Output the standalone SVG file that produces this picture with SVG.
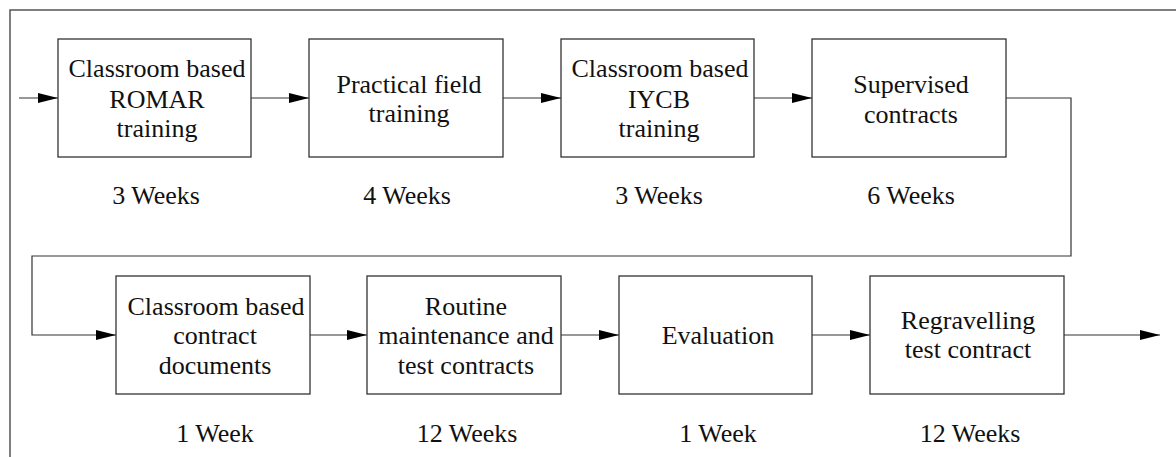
<svg xmlns="http://www.w3.org/2000/svg" width="1176" height="457" viewBox="0 0 1176 457">
<style>
.frame{fill:none;stroke:#555;stroke-width:1.5}
.box{fill:#fff;stroke:#333;stroke-width:1.3}
.conn{fill:none;stroke:#333;stroke-width:1.2}
.t{font-family:'Liberation Serif','Tinos','Times New Roman','Nimbus Roman','Nimbus Roman No9 L','FreeSerif','DejaVu Serif',serif;font-size:26px;fill:#111;text-anchor:middle}
</style>
<defs>
<marker id="arr" markerUnits="userSpaceOnUse" markerWidth="20" markerHeight="10" refX="20" refY="5" orient="auto">
<path d="M0,0 L20,5 L0,10 Z" fill="#000"/>
</marker>
<clipPath id="c1"><rect x="58" y="39" width="187" height="118"/></clipPath>
<clipPath id="c3"><rect x="561" y="39" width="188" height="118"/></clipPath>
<clipPath id="c5"><rect x="116" y="276" width="188" height="118"/></clipPath>
<clipPath id="c6"><rect x="367" y="276" width="188" height="118"/></clipPath>
</defs>
<rect x="0" y="0" width="1176" height="457" fill="#fff"/>
<path class="frame" d="M10,457 V10 H1176"/>
<g id="connectors">
<path class="conn" d="M19,98 H58" marker-end="url(#arr)"/>
<path class="conn" d="M251,98 H309" marker-end="url(#arr)"/>
<path class="conn" d="M503,98 H561" marker-end="url(#arr)"/>
<path class="conn" d="M754,98 H812" marker-end="url(#arr)"/>
<path class="conn" d="M1006,98 H1071 V256 H32 V335 H116" marker-end="url(#arr)"/>
<path class="conn" d="M310,335 H367" marker-end="url(#arr)"/>
<path class="conn" d="M561,335 H619" marker-end="url(#arr)"/>
<path class="conn" d="M812,335 H870" marker-end="url(#arr)"/>
<path class="conn" d="M1064,335 H1160" marker-end="url(#arr)"/>
</g>
<g id="nodes">
<g id="n1">
<rect class="box" x="58" y="39" width="193" height="118"/>
<g clip-path="url(#c1)">
<text class="t" x="157" y="77">Classroom based</text>
<text class="t" x="157" y="108">ROMAR</text>
<text class="t" x="157" y="137">training</text>
</g>
<text class="t" x="156" y="204">3 Weeks</text>
</g>
<g id="n2">
<rect class="box" x="309" y="39" width="194" height="118"/>
<text class="t" x="409" y="93">Practical field</text>
<text class="t" x="409" y="122">training</text>
<text class="t" x="407" y="204">4 Weeks</text>
</g>
<g id="n3">
<rect class="box" x="561" y="39" width="193" height="118"/>
<g clip-path="url(#c3)">
<text class="t" x="660" y="77">Classroom based</text>
<text class="t" x="659" y="108">IYCB</text>
<text class="t" x="659" y="137">training</text>
</g>
<text class="t" x="659" y="204">3 Weeks</text>
</g>
<g id="n4">
<rect class="box" x="812" y="39" width="194" height="118"/>
<text class="t" x="911" y="93">Supervised</text>
<text class="t" x="911" y="123">contracts</text>
<text class="t" x="911" y="204">6 Weeks</text>
</g>
<g id="n5">
<rect class="box" x="116" y="276" width="194" height="118"/>
<g clip-path="url(#c5)">
<text class="t" x="216" y="315">Classroom based</text>
<text class="t" x="215" y="344">contract</text>
<text class="t" x="215" y="374">documents</text>
</g>
<text class="t" x="215" y="442">1 Week</text>
</g>
<g id="n6">
<rect class="box" x="367" y="276" width="194" height="118"/>
<g clip-path="url(#c6)">
<text class="t" x="466" y="315">Routine</text>
<text class="t" x="466" y="344">maintenance and</text>
<text class="t" x="466" y="374">test contracts</text>
</g>
<text class="t" x="467" y="442">12 Weeks</text>
</g>
<g id="n7">
<rect class="box" x="619" y="276" width="193" height="118"/>
<text class="t" x="718" y="344">Evaluation</text>
<text class="t" x="718" y="442">1 Week</text>
</g>
<g id="n8">
<rect class="box" x="870" y="276" width="194" height="118"/>
<text class="t" x="968" y="329">Regravelling</text>
<text class="t" x="968" y="358">test contract</text>
<text class="t" x="970" y="442">12 Weeks</text>
</g>
</g>
</svg>
